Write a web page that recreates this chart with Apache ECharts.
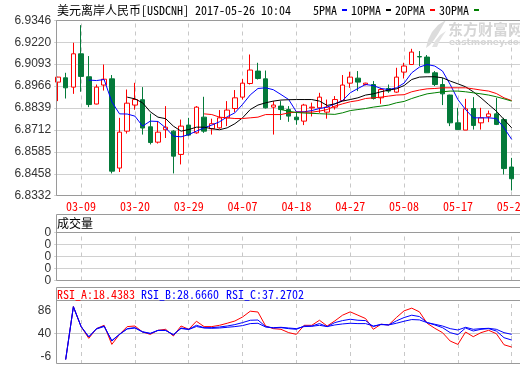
<!DOCTYPE html>
<html><head><meta charset="utf-8">
<script src="https://cdn.jsdelivr.net/npm/echarts@6/dist/echarts.min.js"></script>
<style>html,body{margin:0;padding:0;background:#fff}#c{width:520px;height:365px}</style>
</head><body><div id="c"></div>
<script>
const DATES = ['03-06','03-07','03-08','03-09','03-10','03-13','03-14','03-15','03-16','03-17','03-20','03-21','03-22','03-23','03-24','03-27','03-28','03-29','03-30','03-31','04-03','04-04','04-05','04-06','04-07','04-10','04-11','04-12','04-13','04-14','04-17','04-18','04-19','04-20','04-21','04-24','04-25','04-26','04-27','04-28','05-01','05-02','05-03','05-04','05-05','05-08','05-09','05-10','05-11','05-12','05-15','05-16','05-17','05-18','05-19','05-22','05-23','05-24','05-25','05-26'];
const LABEL_DATES = ['03-09','03-20','03-29','04-07','04-18','04-27','05-08','05-17','05-26'];
// [open, close, low, high]
const CANDLES = [
[6.8989,6.9018,6.8879,6.9020],[6.9014,6.8956,6.8894,6.9043],[6.8960,6.9153,6.8921,6.9217],[6.9153,6.9022,6.8933,6.9319],
[6.9020,6.8859,6.8844,6.9140],[6.8862,6.8960,6.8860,6.8975],[6.8972,6.9006,6.8940,6.9091],[6.9008,6.8473,6.8460,6.9030],
[6.8491,6.8699,6.8468,6.8782],[6.8705,6.8867,6.8691,6.8946],[6.8856,6.8888,6.8829,6.8985],[6.8887,6.8723,6.8685,6.8960],
[6.8730,6.8639,6.8628,6.8806],[6.8641,6.8699,6.8633,6.8763],[6.8713,6.8728,6.8665,6.8850],[6.8705,6.8560,6.8460,6.8710],
[6.8570,6.8734,6.8512,6.8772],[6.8740,6.8682,6.8676,6.8782],[6.8695,6.8844,6.8690,6.8850],[6.8786,6.8705,6.8695,6.8904],
[6.8719,6.8748,6.8685,6.8777],[6.8724,6.8782,6.8719,6.8827],[6.8782,6.8827,6.8734,6.8879],[6.8836,6.8898,6.8815,6.8943],
[6.8902,6.8983,6.8888,6.9008],[6.8981,6.9059,6.8975,6.9149],[6.9053,6.9010,6.9004,6.9101],[6.9008,6.8840,6.8836,6.9056],
[6.8844,6.8856,6.8685,6.8879],[6.8850,6.8830,6.8770,6.8879],[6.8830,6.8792,6.8759,6.8850],[6.8786,6.8771,6.8742,6.8819],
[6.8763,6.8856,6.8740,6.8863],[6.8840,6.8844,6.8790,6.8870],[6.8840,6.8902,6.8811,6.8927],[6.8815,6.8844,6.8777,6.8888],
[6.8844,6.8888,6.8830,6.8908],[6.8882,6.8972,6.8879,6.9030],[6.8983,6.9018,6.8956,6.9049],[6.9012,6.8989,6.8937,6.9053],
[6.8975,6.8983,6.8970,6.8985],[6.8975,6.8894,6.8888,6.8995],[6.8898,6.8946,6.8863,6.8956],[6.8952,6.8937,6.8927,6.8975],
[6.8931,6.9018,6.8927,6.9072],[6.9047,6.9082,6.9010,6.9101],[6.9091,6.9163,6.9088,6.9182],[6.9137,6.9135,6.9082,6.9169],
[6.9134,6.9043,6.9043,6.9146],[6.9043,6.8975,6.8966,6.9053],[6.8975,6.8921,6.8856,6.9014],[6.8914,6.8753,6.8734,6.8916],
[6.8753,6.8714,6.8714,6.8840],[6.8711,6.8834,6.8711,6.8892],[6.8836,6.8738,6.8714,6.8902],[6.8753,6.8782,6.8714,6.8840],
[6.8788,6.8805,6.8757,6.8824],[6.8805,6.8744,6.8740,6.8898],[6.8772,6.8488,6.8454,6.8782],[6.8497,6.8429,6.8361,6.8550]
];
const MA5 = [null,null,null,null,6.9001,6.8998,6.9004,6.8875,6.8805,6.8804,6.8792,6.8734,6.8763,6.8761,6.8724,6.8676,6.8672,6.8685,6.8705,6.8724,6.8740,6.8759,6.8788,6.8811,6.8860,6.8915,6.8952,6.8956,6.8945,6.8917,6.8888,6.8817,6.8817,6.8824,6.8836,6.8844,6.8863,6.8882,6.8927,6.8952,6.8975,6.8969,6.8952,6.8946,6.8956,6.8983,6.9043,6.9076,6.9091,6.9082,6.9053,6.8975,6.8888,6.8830,6.8782,6.8782,6.8782,6.8778,6.8724,6.8657];
const MA10 = [null,null,null,null,null,null,null,null,null,6.8902,6.8892,6.8869,6.8817,6.8786,6.8777,6.8734,6.8705,6.8714,6.8728,6.8728,6.8719,6.8713,6.8724,6.8748,6.8782,6.8830,6.8856,6.8869,6.8879,6.8885,6.8887,6.8888,6.8888,6.8888,6.8879,6.8854,6.8863,6.8879,6.8888,6.8898,6.8914,6.8921,6.8933,6.8943,6.8950,6.8969,6.9004,6.9018,6.9020,6.9020,6.9014,6.8995,6.8979,6.8962,6.8933,6.8898,6.8859,6.8821,6.8772,6.8724];
const MA20 = [null,null,null,null,null,null,null,null,null,null,null,null,null,null,null,null,null,null,null,6.8805,6.8801,6.8786,6.8782,6.8778,6.8778,6.8782,6.8786,6.8801,6.8801,6.8801,6.8811,6.8815,6.8815,6.8815,6.8821,6.8830,6.8850,6.8863,6.8875,6.8882,6.8894,6.8898,6.8902,6.8908,6.8914,6.8916,6.8933,6.8943,6.8950,6.8952,6.8956,6.8956,6.8956,6.8956,6.8950,6.8943,6.8937,6.8923,6.8898,6.8882];
const MA30 = [null,null,null,null,null,null,null,null,null,null,null,null,null,null,null,null,null,null,null,null,null,null,null,null,null,null,null,null,null,6.8830,6.8820,6.8813,6.8810,6.8808,6.8806,6.8804,6.8802,6.8811,6.8824,6.8830,6.8836,6.8844,6.8850,6.8856,6.8869,6.8877,6.8894,6.8908,6.8921,6.8927,6.8933,6.8937,6.8937,6.8933,6.8927,6.8921,6.8914,6.8904,6.8892,6.8879];
const VOL = DATES.map(() => 0);
const RSI_A = [null,-12,94,54,30.3,49.7,56.4,18.2,38.3,53.8,55,43,38.3,46.4,48.4,35,55,48.4,64.5,53.8,53.8,56.4,60.5,65,73,84.6,83,55,49.7,48.4,41.7,38.3,56.4,56.4,66.5,55,65.2,76.6,83.3,76.6,69.9,48.4,58.5,57.1,71.9,85.3,90.7,83.3,60.5,50.4,41.7,24.9,18.2,43,33.6,41.7,46.4,39.7,17.5,12.9];
const RSI_B = [null,-12,94,54,33,49.7,55,24.9,38.3,49.7,51.7,43,39.7,46.4,46.4,37,51,48.4,56.4,51.7,51.7,53,55,57.8,61.8,66.5,67,53.8,51,51.7,49.7,48.4,55,55,59.8,53.8,61.8,65.8,68.5,66.5,65.8,53.8,58.5,57.1,65.2,71.9,76.6,73.9,61.8,57.1,51.7,41.7,37.7,51,45,48.4,49.7,45,31.6,26.9];
const RSI_C = [null,-12,93,54,33.5,49,54,26,38.3,49,51,43.5,40.5,46,46,38,50,48,54,51,50.4,51,52.4,53.8,55.8,59.8,60.5,53,51.7,52.4,51,49.7,53.8,54.4,56.4,53.8,57.1,59.1,60.5,59.8,59.8,55,57.8,57.1,60.5,64.5,67.9,67.2,61.8,58.5,55,49.7,47,52.4,48.4,49.7,50.4,48.4,41.7,38.3];
const Y_TICKS = [6.8332,6.8458,6.8585,6.8712,6.8839,6.8966,6.9093,6.9220,6.9346];
const VOL_TICKS = ['0','0','0','0','0'];
const RSI_TICKS = [-6,40,86];
const RSI_TITLES = ['RSI_A:18.4383','RSI_B:28.6660','RSI_C:37.2702'];
const MA_NAMES = ['5PMA','10PMA','20PMA','30PMA'];

const MONO = "'Noto Sans Mono CJK SC','Noto Sans CJK SC',monospace";
const SANS = "'Liberation Sans',Arial,sans-serif";
const XCATS = DATES.concat(['']);
const GRID_LEFT = 54.15, GRID_W = 469.1;

function vlines(extra) {
  return {
    silent: true, symbol: 'none', z: 1, animation: false,
    label: { show: false },
    lineStyle: { type: [4, 4], color: '#c8c8c8', width: 1 },
    emphasis: { disabled: true },
    data: LABEL_DATES.map(d => ({ xAxis: d })).concat(extra || [])
  };
}
function xAx(gi, showLabel) {
  return {
    type: 'category', gridIndex: gi, data: XCATS, boundaryGap: true,
    axisLine: { show: false }, axisTick: { show: false }, splitLine: { show: false },
    axisLabel: {
      show: showLabel, color: '#ff0000', fontFamily: MONO, fontSize: 12, margin: 5,
      hideOverlap: false,
      interval: (i, v) => LABEL_DATES.indexOf(v) >= 0
    }
  };
}
function gridAt(top, height) {
  return { left: GRID_LEFT, top: top, width: GRID_W, height: height, containLabel: false, outerBoundsMode: 'none' };
}

const chart = echarts.init(document.getElementById('c'), null, { renderer: 'canvas' });
const frame = '#9a9a9a';
chart.setOption({
  animation: false,
  backgroundColor: '#fff',
  title: {
    text: '美元离岸人民币[USDCNH] 2017-05-26 10:04', left: 57, top: 4, padding: 0,
    textStyle: { fontFamily: MONO, fontSize: 12, fontWeight: 'normal', color: '#000' }
  },
  legend: {
    data: MA_NAMES, left: 313, top: 4, padding: 0, itemGap: 4, itemWidth: 5, itemHeight: 2,
    align: 'right', icon: 'rect', selectedMode: false,
    textStyle: { fontFamily: MONO, fontSize: 12, color: '#000', padding: 0 }
  },
  grid: [gridAt(20.5, 175), gridAt(232.5, 48), gridAt(300.5, 63.5)],
  xAxis: [xAx(0, true), xAx(1, false), xAx(2, false)],
  yAxis: [
    { type: 'value', gridIndex: 0, min: 6.8332, max: 6.9346, scale: true,
      axisLine: { show: false },
      axisTick: { show: false, customValues: Y_TICKS },
      axisLabel: { customValues: Y_TICKS, formatter: v => v.toFixed(4), color: '#333', fontFamily: SANS, fontSize: 12, margin: 3 },
      splitLine: { show: true, lineStyle: { color: '#d0d0d0', width: 1 } } },
    { type: 'category', gridIndex: 1, data: VOL_TICKS, boundaryGap: false,
      axisLine: { show: false }, axisTick: { show: false },
      axisLabel: { interval: 0, color: '#333', fontFamily: SANS, fontSize: 12, margin: 3 },
      splitLine: { show: true, interval: 0, lineStyle: { color: '#d0d0d0', width: 1 } } },
    { type: 'value', gridIndex: 1, min: 0, max: 1, show: false, splitLine: { show: false } },
    { type: 'value', gridIndex: 2, min: -21, max: 106,
      axisLine: { show: false },
      axisTick: { show: false, customValues: RSI_TICKS },
      axisLabel: { customValues: RSI_TICKS, color: '#333', fontFamily: SANS, fontSize: 12, margin: 3 },
      splitLine: { show: false } }
  ],
  series: [
    { name: 'K', type: 'candlestick', xAxisIndex: 0, yAxisIndex: 0, data: CANDLES, barWidth: 5, z: 3,
      itemStyle: { color: '#ffffff', color0: '#047a3a', borderColor: '#ff0000', borderColor0: '#047a3a', borderWidth: 1 } },
    { name: MA_NAMES[0], type: 'line', xAxisIndex: 0, yAxisIndex: 0, data: MA5, showSymbol: false, symbol: 'none', z: 4,
      color: '#0000ff', lineStyle: { width: 1, color: '#0000ff' }, markLine: vlines() },
    { name: MA_NAMES[1], type: 'line', xAxisIndex: 0, yAxisIndex: 0, data: MA10, showSymbol: false, symbol: 'none', z: 4,
      color: '#000000', lineStyle: { width: 1, color: '#000000' } },
    { name: MA_NAMES[2], type: 'line', xAxisIndex: 0, yAxisIndex: 0, data: MA20, showSymbol: false, symbol: 'none', z: 4,
      color: '#ff0000', lineStyle: { width: 1, color: '#ff0000' } },
    { name: MA_NAMES[3], type: 'line', xAxisIndex: 0, yAxisIndex: 0, data: MA30, showSymbol: false, symbol: 'none', z: 4,
      color: '#008000', lineStyle: { width: 1, color: '#008000' } },
    { name: 'VOL', type: 'bar', xAxisIndex: 1, yAxisIndex: 2, data: VOL, barWidth: 3, itemStyle: { color: '#047a3a' },
      markLine: vlines() },
    { name: 'RSI_A', type: 'line', xAxisIndex: 2, yAxisIndex: 3, data: RSI_A, showSymbol: false, symbol: 'none', z: 4,
      lineStyle: { width: 1, color: '#ff0000' },
      markLine: vlines([{ yAxis: 40, lineStyle: { type: 'solid', color: '#c8c8c8' } }]) },
    { name: 'RSI_B', type: 'line', xAxisIndex: 2, yAxisIndex: 3, data: RSI_B, showSymbol: false, symbol: 'none', z: 5,
      lineStyle: { width: 1, color: '#0000ff' } },
    { name: 'RSI_C', type: 'line', xAxisIndex: 2, yAxisIndex: 3, data: RSI_C, showSymbol: false, symbol: 'none', z: 5,
      lineStyle: { width: 1, color: '#0000ff' } }
  ],
  graphic: [
    { type: 'rect', z: 100, silent: true, shape: { x: 56.5, y: 20.5, width: 480, height: 175 }, style: { fill: 'none', stroke: frame, lineWidth: 1 } },
    { type: 'rect', z: 100, silent: true, shape: { x: 56.5, y: 214.5, width: 480, height: 66 }, style: { fill: 'none', stroke: frame, lineWidth: 1 } },
    { type: 'line', z: 100, silent: true, shape: { x1: 56.5, y1: 232.5, x2: 540, y2: 232.5 }, style: { stroke: frame, lineWidth: 1 } },
    { type: 'rect', z: 100, silent: true, shape: { x: 56.5, y: 287.5, width: 480, height: 76 }, style: { fill: 'none', stroke: frame, lineWidth: 1 } },
    { type: 'line', z: 100, silent: true, shape: { x1: 56.5, y1: 300.5, x2: 540, y2: 300.5 }, style: { stroke: frame, lineWidth: 1 } },
    { type: 'text', z: 100, silent: true, x: 57, y: 223.5, style: { text: '成交量', font: "12px 'Noto Sans CJK SC'", fill: '#000', verticalAlign: 'middle' } },
    { type: 'text', z: 100, silent: true, x: 57, y: 294, style: { text: RSI_TITLES[0], font: '12px ' + MONO, fill: '#ff0000', verticalAlign: 'middle' } },
    { type: 'text', z: 100, silent: true, x: 141, y: 294, style: { text: RSI_TITLES[1], font: '12px ' + MONO, fill: '#0000ff', verticalAlign: 'middle' } },
    { type: 'text', z: 100, silent: true, x: 226, y: 294, style: { text: RSI_TITLES[2], font: '12px ' + MONO, fill: '#0000ff', verticalAlign: 'middle' } },
    { type: 'polygon', z: 50, silent: true, shape: { points: [[426,48],[428,40],[432,32],[438,25],[446,20],[442,27],[438,34],[434,40],[430,45]] }, style: { fill: '#dcdcdc' } },
    { type: 'polygon', z: 50, silent: true, shape: { points: [[432,47],[435,41],[440,35],[446,31],[442,37],[439,42],[437,47]] }, style: { fill: '#e2e2e2' } },
    { type: 'text', z: 50, silent: true, x: 448, y: 22, style: { text: '东方财富网', font: "bold 15px 'Noto Sans CJK SC'", fill: '#d6d6d6' } },
    { type: 'text', z: 50, silent: true, x: 449, y: 38, style: { text: 'eastmoney.com', font: "bold 9px 'DejaVu Sans'", fill: '#d6d6d6' } }
  ]
});
</script></body></html>
